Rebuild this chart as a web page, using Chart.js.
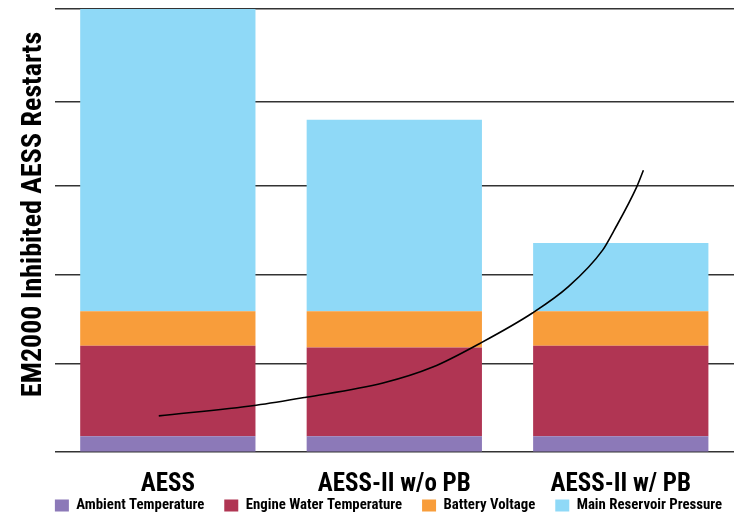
<!DOCTYPE html>
<html>
<head>
<meta charset="utf-8">
<script src="https://cdn.jsdelivr.net/npm/chart.js@4/dist/chart.umd.min.js"></script>
<style>
  html, body { margin: 0; padding: 0; background: #fff; }
  #wrap { width: 740px; height: 514px; }
</style>
</head>
<body>
<div id="wrap"><canvas id="restarts"></canvas></div>
<script>
var categories = ["AESS", "AESS-II w/o PB", "AESS-II w/ PB"];
var ambientTemp = [0.18, 0.18, 0.18];
var engineWaterTemp = [1.02, 1.00, 1.02];
var batteryVoltage = [0.39, 0.41, 0.39];
var mainReservoir = [3.41, 2.16, 0.77];
var gridTicks = [0, 1, 2, 3, 3.95, 5];
// hand drawn trend curve, x in category units (0..3)
var curveX = [0.46, 0.89, 1.11, 1.45, 1.67, 1.88, 2.11, 2.27, 2.42, 2.47, 2.57, 2.60];
var curveY = [0.41, 0.53, 0.62, 0.78, 0.96, 1.23, 1.57, 1.87, 2.28, 2.50, 2.99, 3.18];

var fontFam = "'Roboto Condensed', 'Open Sans Condensed', sans-serif";

var curvePts = [];
for (var i = 0; i < curveX.length; i++) {
  curvePts.push({ x: curveX[i], y: curveY[i] });
}

function barSet(label, data, color) {
  return {
    type: 'bar',
    label: label,
    data: data,
    xAxisID: 'x',
    yAxisID: 'y',
    backgroundColor: color,
    borderWidth: 0,
    barPercentage: 0.774,
    categoryPercentage: 1.0,
    grouped: false,
    stack: 'bars',
    order: 1
  };
}

// nudge the legend to sit where the original one is,
// and let the category labels run down into the legend's padding
var legendNudge = {
  id: 'legendNudge',
  afterLayout: function(chart) {
    var l = chart.legend;
    l.left += 14;
    l.right += 14;
    chart.scales.x.bottom = chart.height;
  }
};

var ctx = document.getElementById('restarts');
var chart = new Chart(ctx, {
  type: 'bar',
  data: {
    labels: categories,
    datasets: [
      barSet('Ambient Temperature', ambientTemp, '#8c79b8'),
      barSet('Engine Water Temperature', engineWaterTemp, '#b03553'),
      barSet('Battery Voltage', batteryVoltage, '#f89d3b'),
      barSet('Main Reservoir Pressure', mainReservoir, '#8fd9f7'),
      {
        type: 'line',
        label: 'trend',
        data: curvePts,
        xAxisID: 'xc',
        yAxisID: 'y',
        stack: 'curve',
        borderColor: '#000',
        borderWidth: 1.6,
        pointRadius: 0,
        fill: false,
        cubicInterpolationMode: 'monotone',
        order: 0
      }
    ]
  },
  options: {
    responsive: true,
    maintainAspectRatio: false,
    animation: false,
    layout: { padding: { top: 9, left: 15, right: 6, bottom: -9 } },
    plugins: {
      tooltip: { enabled: false },
      legend: {
        position: 'bottom',
        labels: {
          filter: function(item) { return item.datasetIndex < 4; },
          boxWidth: 14,
          boxHeight: 12,
          padding: 20,
          color: '#000',
          font: { family: fontFam, size: 14.8, weight: 'bold' }
        }
      }
    },
    scales: {
      x: {
        type: 'category',
        offset: true,
        stacked: true,
        grid: { display: false, drawTicks: false },
        border: { display: false },
        ticks: {
          color: '#000',
          padding: 18,
          font: { family: fontFam, size: 25, weight: 'bold' }
        },
        afterFit: function(s) { s.height = 26; }
      },
      xc: {
        type: 'linear',
        display: false,
        offset: false,
        min: 0,
        max: 3,
        grid: { offset: false }
      },
      y: {
        stacked: true,
        min: 0,
        max: 5,
        afterBuildTicks: function(s) {
          s.ticks = gridTicks.map(function(v) { return { value: v }; });
        },
        ticks: { display: false },
        grid: { color: '#333', lineWidth: 1.6, drawTicks: false },
        border: { display: false },
        title: {
          display: true,
          text: '     EM2000 Inhibited AESS Restarts',
          color: '#000',
          padding: { top: 2, bottom: 4 },
          font: { family: fontFam, size: 28, weight: 'bold' }
        }
      }
    }
  },
  plugins: [legendNudge]
});
</script>
</body>
</html>
